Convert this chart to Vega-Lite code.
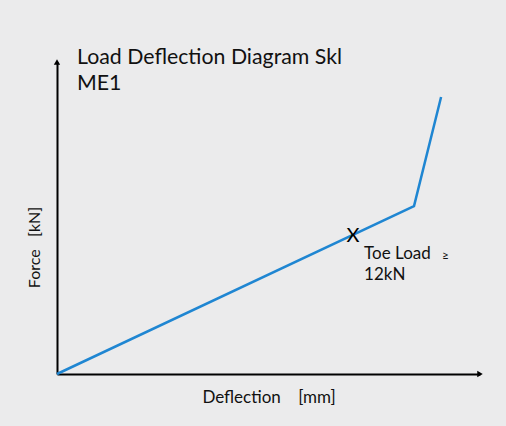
{
  "$schema": "https://vega.github.io/schema/vega-lite/v6.json",
  "width": 423,
  "height": 312,
  "autosize": "none",
  "padding": {"left": 57, "top": 62, "right": 26, "bottom": 52},
  "background": "#ebebec",
  "config": {"view": {"stroke": null}, "font": "Lato"},
  "title": {
    "text": ["Load Deflection Diagram Skl", "ME1"],
    "anchor": "start",
    "frame": "group",
    "orient": "top",
    "offset": 0,
    "dx": 20,
    "dy": 52,
    "baseline": "alphabetic",
    "lineHeight": 26,
    "fontSize": 21.3,
    "font": "Lato",
    "fontWeight": "normal",
    "color": "#111111"
  },
  "datasets": {
    "curve": [
      {"deflection": 0, "force": 0},
      {"deflection": 84.4, "force": 53.8},
      {"deflection": 90.8, "force": 88.8}
    ],
    "toe": [
      {"deflection": 70.0, "force": 44.9, "mark": "X", "label": "Toe Load", "label2": "12kN", "sym": "≥"}
    ]
  },
  "layer": [
    {
      "data": {"name": "curve"},
      "mark": {"type": "line", "color": "#1f86d2", "strokeWidth": 2.5},
      "encoding": {
        "x": {
          "field": "deflection",
          "type": "quantitative",
          "scale": {"domain": [0, 100], "nice": false, "zero": true},
          "axis": {
            "title": "Deflection\u00a0\u00a0\u00a0\u00a0[mm]",
            "labels": false,
            "ticks": false,
            "grid": false,
            "domainColor": "#000000",
            "domainWidth": 2,
            "titleFont": "Lato",
            "titleFontSize": 17,
            "titleFontWeight": "normal",
            "titleColor": "#111111",
            "titleBaseline": "alphabetic",
            "titleY": 28
          }
        },
        "y": {
          "field": "force",
          "type": "quantitative",
          "scale": {"domain": [0, 100], "nice": false, "zero": true},
          "axis": {
            "title": "Force\u00a0\u00a0\u00a0[kN]",
            "labels": false,
            "ticks": false,
            "grid": false,
            "domainColor": "#000000",
            "domainWidth": 2,
            "titleFont": "Lato",
            "titleFontSize": 16,
            "titleFontWeight": "normal",
            "titleColor": "#111111",
            "titleAlign": "center",
            "titleBaseline": "middle",
            "titleAngle": -90,
            "titleX": -23,
            "titleY": 185
          }
        }
      }
    },
    {
      "data": {"values": [{}]},
      "mark": {"type": "point", "shape": "triangle-right", "filled": true, "color": "#000000", "size": 40, "opacity": 1},
      "encoding": {"x": {"datum": 100, "type": "quantitative"}, "y": {"datum": 0, "type": "quantitative"}}
    },
    {
      "data": {"values": [{}]},
      "mark": {"type": "point", "shape": "triangle-up", "filled": true, "color": "#000000", "size": 40, "opacity": 1},
      "encoding": {"x": {"datum": 0, "type": "quantitative"}, "y": {"datum": 100, "type": "quantitative"}}
    },
    {
      "data": {"name": "toe"},
      "mark": {"type": "text", "font": "Lato", "fontSize": 20, "align": "center", "baseline": "alphabetic", "dy": 8, "color": "#000000"},
      "encoding": {
        "x": {"field": "deflection", "type": "quantitative"},
        "y": {"field": "force", "type": "quantitative"},
        "text": {"field": "mark"}
      }
    },
    {
      "data": {"name": "toe"},
      "mark": {"type": "text", "font": "Lato", "fontSize": 17, "align": "left", "baseline": "alphabetic", "dx": 11, "dy": 25, "color": "#111111"},
      "encoding": {
        "x": {"field": "deflection", "type": "quantitative"},
        "y": {"field": "force", "type": "quantitative"},
        "text": {"field": "label"}
      }
    },
    {
      "data": {"name": "toe"},
      "mark": {"type": "text", "font": "Lato", "fontSize": 17, "align": "left", "baseline": "alphabetic", "dx": 11, "dy": 46, "color": "#111111"},
      "encoding": {
        "x": {"field": "deflection", "type": "quantitative"},
        "y": {"field": "force", "type": "quantitative"},
        "text": {"field": "label2"}
      }
    },
    {
      "data": {"name": "toe"},
      "mark": {"type": "text", "font": "Lato", "fontSize": 12, "align": "left", "baseline": "alphabetic", "dx": 89, "dy": 25, "color": "#111111"},
      "encoding": {
        "x": {"field": "deflection", "type": "quantitative"},
        "y": {"field": "force", "type": "quantitative"},
        "text": {"field": "sym"}
      }
    }
  ]
}
